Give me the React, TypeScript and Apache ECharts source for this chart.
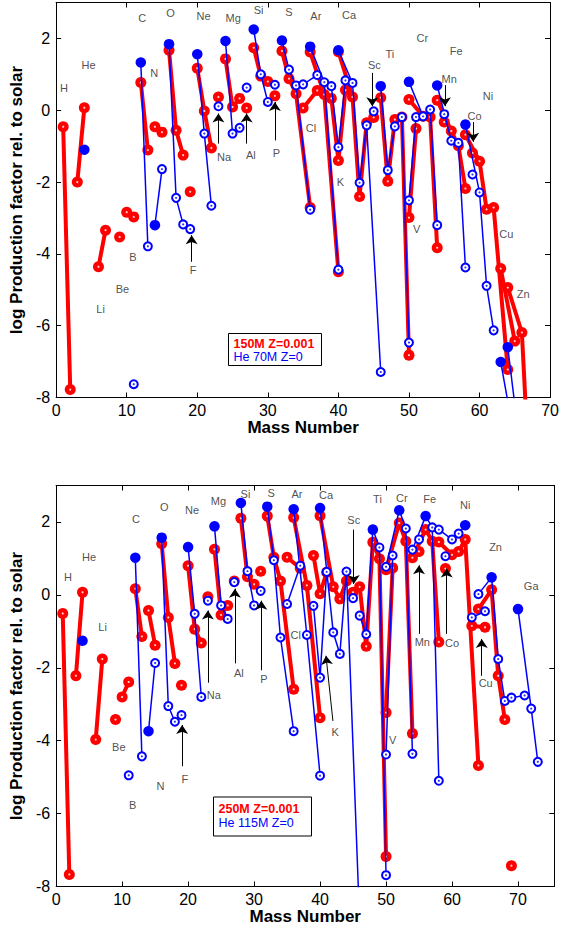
import React, { useEffect, useRef } from "react";
import * as echarts from "echarts";

type Pt = [number, number];
type Lbl = [string, number, number];

// ================= TOP PANEL =================
// 150M Z=0.001 (red), chains of isotopes per element: [mass number, log production factor]
const topRed: Pt[][] = [
  [[1, -0.46], [2, -7.78]], // H
  [[3, -2.0], [4, 0.07]], // He
  [[6, -4.36], [7, -3.34]], // Li
  [[9, -3.53]], // Be
  [[10, -2.84], [11, -2.97]], // B
  [[12, 0.77], [13, -1.11]], // C
  [[14, -0.46], [15, -0.61]], // N
  [[16, 1.67], [17, -0.56], [18, -1.25]], // O
  [[19, -2.27]], // F
  [[20, 1.17], [21, -0.02], [22, -1.05]], // Ne
  [[23, 0.37]], // Na
  [[24, 1.43], [25, 0.09], [26, 0.33]], // Mg
  [[27, 0.06]], // Al
  [[28, 1.74], [29, 0.95], [30, 0.8]], // Si
  [[31, 0.4]], // P
  [[32, 1.65], [33, 0.88], [34, 0.46], [36, -2.71]], // S
  [[35, 0.06], [37, 0.55]], // Cl
  [[36, 1.62], [38, 0.44], [40, -4.5]], // Ar
  [[39, 0.33], [40, -1.4], [41, 0.56]], // K
  [[40, 1.63], [42, 0.37], [43, -2.4], [44, -0.35]], // Ca
  [[45, -0.2]], // Sc
  [[46, 0.35], [47, -1.98], [48, -0.26], [49, -0.19], [50, -6.82]], // Ti
  [[50, -2.99], [51, -0.51]], // V
  [[50, 0.3], [52, -0.17], [53, -0.19], [54, -3.83]], // Cr
  [[55, -0.33]], // Mn
  [[54, 0.28], [56, -0.58], [57, -0.99], [58, -2.18]], // Fe
  [[59, -1.19]], // Co
  [[58, -0.68], [60, -1.42], [61, -2.76], [62, -2.71], [64, -7.22]], // Ni
  [[63, -4.41], [65, -6.43]], // Cu
  [[64, -4.94], [66, -6.19], [67, -10.0]], // Zn
];

// He 70M Z=0 (blue)
const topBlue: Pt[][] = [
  [[4, -1.1]], // He
  [[11, -7.63]], // B
  [[12, 1.33], [13, -3.79]], // C
  [[14, -3.2], [15, -1.64]], // N
  [[16, 1.84], [17, -2.44], [18, -3.18]], // O
  [[19, -3.31]], // F
  [[20, 1.56], [21, -0.65], [22, -2.66]], // Ne
  [[23, 0.11]], // Na
  [[24, 1.93], [25, -0.65], [26, -0.49]], // Mg
  [[27, 0.63]], // Al
  [[28, 2.25], [29, 1.0], [30, 0.23]], // Si
  [[31, 0.71]], // P
  [[32, 1.94], [33, 1.13], [34, 0.69], [36, -2.77]], // S
  [[35, 0.72], [37, 0.98]], // Cl
  [[36, 1.77], [38, 0.78], [40, -4.44]], // Ar
  [[39, 0.67], [40, -1.03], [41, 0.83]], // K
  [[40, 1.67], [42, 0.76], [43, -2.02], [44, -0.42], [46, -7.29]], // Ca
  [[45, -0.03]], // Sc
  [[46, 0.67], [47, -1.67], [48, -0.45], [49, -0.19], [50, -6.47]], // Ti
  [[50, -2.51], [51, -0.19]], // V
  [[50, 0.79], [52, -0.17], [53, 0.02], [54, -3.2]], // Cr
  [[55, -0.11]], // Mn
  [[54, 0.69], [56, -0.85], [57, -0.91], [58, -4.38]], // Fe
  [[59, -1.79]], // Co
  [[58, -0.4], [60, -2.29], [61, -4.89], [62, -6.13]], // Ni
  [[63, -7.01], [65, -9.2]], // Cu
  [[64, -6.6], [66, -9.8]], // Zn
];
// index of the filled marker in each blue chain (-1: none)
const topBlueFilled: number[] = [0, -1, 0, 0, 0, -1, 0, -1, 0, -1, 0, -1, 0, -1, 0, -1, 0, -1, 0, -1, 0, -1, 0, -1, 0, 0, 0];

const topLabels: Lbl[] = [
  ["H", 1.1, 0.63], ["He", 4.6, 1.27], ["Li", 6.3, -5.53], ["Be", 9.4, -4.98], ["B", 10.9, -4.1],
  ["C", 12.2, 2.58], ["N", 13.9, 1.04], ["O", 16.2, 2.72], ["F", 19.4, -4.46], ["Ne", 20.9, 2.63],
  ["Na", 23.8, -1.3], ["Mg", 25.1, 2.58], ["Al", 27.6, -1.25], ["Si", 28.7, 2.79], ["P", 31.2, -1.19],
  ["S", 33.0, 2.74], ["Cl", 36.1, -0.49], ["Ar", 36.8, 2.63], ["K", 40.3, -2.0], ["Ca", 41.5, 2.65],
  ["Sc", 45.1, 1.27], ["Ti", 47.3, 1.56], ["V", 51.1, -3.3], ["Cr", 51.9, 2.02], ["Mn", 55.7, 0.88],
  ["Fe", 56.7, 1.65], ["Co", 59.3, -0.16], ["Ni", 61.2, 0.4], ["Cu", 63.8, -3.46], ["Zn", 66.2, -5.13],
];
// arrows: [tail, head]
const topArrows: [Pt, Pt][] = [
  [[19.2, -4.22], [19.2, -3.48]],
  [[23.0, -0.93], [23.0, -0.09]],
  [[27.0, -0.93], [27.0, -0.09]],
  [[31.0, -0.84], [31.0, 0.23]],
  [[44.8, 1.04], [44.8, 0.11]],
  [[55.1, 0.7], [55.1, 0.11]],
  [[59.1, -0.33], [59.1, -0.88]],
];

// ================= BOTTOM PANEL =================
// 250M Z=0.001 (red)
const botRed: Pt[][] = [
  [[1, -0.51], [2, -7.67]], // H
  [[3, -2.22], [4, 0.07]], // He
  [[6, -3.97], [7, -1.76]], // Li
  [[9, -3.42]], // Be
  [[10, -2.8], [11, -2.39]], // B
  [[12, 0.17], [13, -1.14]], // C
  [[14, -0.43], [15, -1.38]], // N
  [[16, 1.4], [17, -0.62], [18, -1.88]], // O
  [[19, -2.48]], // F
  [[20, 0.8], [21, -0.94], [22, -1.32]], // Ne
  [[23, -0.05]], // Na
  [[24, 1.25], [25, -0.55], [26, -0.29]], // Mg
  [[27, 0.38]], // Al
  [[28, 2.1], [29, 0.5], [30, 0.29]], // Si
  [[31, 0.65]], // P
  [[32, 2.16], [33, 1.03], [34, 0.38], [36, -2.59]], // S
  [[35, 1.03], [37, 0.73]], // Cl
  [[36, 2.12], [38, 0.26], [40, -3.37]], // Ar
  [[39, 1.08], [40, 0.03], [41, 0.62]], // K
  [[40, 2.17], [42, 0.22], [43, -0.11], [44, 0.38]], // Ca
  [[45, 0.07]], // Sc
  [[46, 0.22], [47, -1.41], [48, 1.44], [49, 0.99], [50, -7.18]], // Ti
  [[50, -3.23], [51, 0.74]], // V
  [[50, 0.69], [52, 1.97], [53, 1.47], [54, -3.8]], // Cr
  [[55, 1.19]], // Mn
  [[54, 1.02], [56, 1.79], [57, 1.47], [58, -1.29]], // Fe
  [[59, 0.72]], // Co
  [[58, 1.45], [60, 1.1], [61, 1.19], [62, 1.52], [64, -4.68]], // Ni
  [[63, -0.85], [65, -0.89]], // Cu
  [[64, -0.39], [66, 0.14], [67, -2.22], [68, -3.42]], // Zn
  [[69, -7.43]], // Ga
];

// He 115M Z=0 (blue)
const botBlue: Pt[][] = [
  [[4, -1.26]], // He
  [[11, -4.95]], // B
  [[12, 1.02], [13, -4.43]], // C
  [[14, -3.74], [15, -1.87]], // N
  [[16, 1.57], [17, -3.05], [18, -3.48]], // O
  [[19, -3.3]], // F
  [[20, 1.31], [21, -0.52], [22, -2.8]], // Ne
  [[23, -0.16]], // Na
  [[24, 1.88], [25, -0.29], [26, -0.66]], // Mg
  [[27, 0.35]], // Al
  [[28, 2.52], [29, 0.65], [30, -0.29]], // Si
  [[31, 0.11]], // P
  [[32, 2.42], [33, 0.95], [34, -1.17], [36, -3.74]], // S
  [[35, -0.25], [37, 0.8]], // Cl
  [[36, 2.35], [38, -1.1], [40, -4.96]], // Ar
  [[39, -0.3], [40, -2.27], [41, 0.63]], // K
  [[40, 2.38], [42, -1.03], [43, -1.62], [44, 0.64], [46, -9.0]], // Ca
  [[45, -0.09]], // Sc
  [[46, -0.57], [47, -1.08], [48, 1.79], [49, 1.3], [50, -7.69]], // Ti
  [[50, -4.38], [51, 1.08]], // V
  [[50, 0.77], [52, 2.32], [53, 1.82], [54, -4.36]], // Cr
  [[55, 1.52]], // Mn
  [[54, 1.24], [56, 2.16], [57, 1.85], [58, -5.1]], // Fe
  [[59, 1.06]], // Co
  [[58, 1.79], [60, 1.52], [61, 1.68], [62, 1.91]], // Ni
  [[63, -0.62], [65, -0.45]], // Cu
  [[64, 0.02], [66, 0.48], [67, -1.76], [68, -2.91], [69, -2.82], [71, -2.76]], // Zn, Ga
  [[70, -0.39], [72, -3.12], [73, -4.58]], // Ge
];
const botBlueFilled: number[] = [0, -1, 0, 0, 0, -1, 0, -1, 0, -1, 0, -1, 0, -1, 0, -1, 0, -1, 2, -1, 1, -1, 1, -1, 3, -1, 1, 0];

const botLabels: Lbl[] = [
  ["H", 1.8, 0.48], ["He", 5.0, 1.04], ["Li", 7.05, -0.87], ["Be", 9.5, -4.18], ["B", 11.6, -5.76],
  ["C", 12.1, 2.07], ["N", 15.8, -5.25], ["O", 16.4, 2.4], ["F", 19.5, -5.04], ["Ne", 20.6, 2.34],
  ["Na", 23.9, -2.75], ["Mg", 24.6, 2.58], ["Al", 27.7, -2.13], ["Si", 28.7, 2.78], ["P", 31.5, -2.31],
  ["S", 32.6, 2.8], ["Cl", 36.3, -1.1], ["Ar", 36.5, 2.76], ["K", 42.3, -3.76], ["Ca", 40.9, 2.74],
  ["Sc", 45.1, 2.05], ["Ti", 48.7, 2.64], ["V", 51.0, -3.97], ["Cr", 52.4, 2.67], ["Mn", 55.5, -1.28],
  ["Fe", 56.6, 2.62], ["Co", 60.0, -1.31], ["Ni", 62.0, 2.46], ["Cu", 65.1, -2.41], ["Zn", 66.6, 1.31],
  ["Ga", 72.0, 0.24],
];
const botArrows: [Pt, Pt][] = [
  [[19.1, -4.7], [19.1, -3.57]],
  [[23.0, -2.41], [23.0, -0.43]],
  [[27.1, -1.88], [27.1, 0.17]],
  [[31.1, -2.07], [31.1, -0.16]],
  [[41.95, -3.46], [40.9, -1.67]],
  [[45.1, 1.79], [45.1, 0.3]],
  [[55.0, -1.07], [55.0, 0.81]],
  [[59.2, -1.07], [59.2, 0.72]],
  [[64.5, -2.22], [64.5, -1.21]],
];

const topLegend = ["150M Z=0.001", "He 70M Z=0"];
const botLegend = ["250M Z=0.001", "He 115M Z=0"];

const yTicks = { min: -8, max: 3, interval: 2 };

const RED = "#ff0000";
const BLUE = "#0000ff";
const FONT = "'Liberation Sans', Arial, Helvetica, sans-serif";

function panelSeries(
  xi: number,
  yi: number,
  red: Pt[][],
  blue: Pt[][],
  filled: number[],
  labels: Lbl[],
  arrows: [Pt, Pt][]
): any[] {
  const out: any[] = [];
  const redPts: Pt[] = [];
  red.forEach((chain) => {
    chain.forEach((p) => redPts.push(p));
    out.push({
      type: "line",
      xAxisIndex: xi,
      yAxisIndex: yi,
      data: chain,
      symbol: "circle",
      symbolSize: 11,
      showSymbol: true,
      showAllSymbol: true,
      lineStyle: { color: RED, width: 4 },
      itemStyle: { color: RED, borderWidth: 0 },
      clip: true,
      silent: true,
      z: 2,
    });
  });
  out.push({
    type: "scatter",
    xAxisIndex: xi,
    yAxisIndex: yi,
    data: redPts,
    symbol: "circle",
    symbolSize: 2.2,
    itemStyle: { color: "#fff" },
    clip: true,
    silent: true,
    z: 2,
  });
  const openPts: Pt[] = [];
  blue.forEach((chain, ci) => {
    out.push({
      type: "line",
      xAxisIndex: xi,
      yAxisIndex: yi,
      data: chain.map((p, i) => {
        if (i === filled[ci]) {
          return { value: p, symbol: "circle", symbolSize: 10.5, itemStyle: { color: BLUE, borderWidth: 0 } };
        }
        openPts.push(p);
        return { value: p };
      }),
      symbol: "emptyCircle",
      symbolSize: 8,
      showSymbol: true,
      showAllSymbol: true,
      lineStyle: { color: BLUE, width: 1.5 },
      itemStyle: { color: BLUE, borderColor: BLUE, borderWidth: 1.5 },
      clip: true,
      silent: true,
      z: 3,
    });
  });
  out.push({
    type: "scatter",
    xAxisIndex: xi,
    yAxisIndex: yi,
    data: openPts,
    symbol: "circle",
    symbolSize: 2.2,
    itemStyle: { color: BLUE },
    clip: true,
    silent: true,
    z: 4,
  });
  out.push({
    type: "scatter",
    xAxisIndex: xi,
    yAxisIndex: yi,
    data: labels.map(([n, x, y]) => ({ name: n, value: [x, y] })),
    symbol: "circle",
    symbolSize: 0,
    itemStyle: { color: "#222" },
    label: {
      show: true,
      position: [0, 0],
      align: "center",
      verticalAlign: "middle",
      formatter: "{b}",
      fontSize: 11,
      color: "#222",
      fontFamily: FONT,
    },
    silent: true,
    z: 5,
  });
  out.push({
    type: "lines",
    coordinateSystem: "cartesian2d",
    xAxisIndex: xi,
    yAxisIndex: yi,
    data: arrows.map((c) => ({ coords: c })),
    symbol: ["none", "arrow"],
    symbolSize: [0, 9],
    lineStyle: { color: "#000", width: 1, opacity: 1, curveness: 0 },
    itemStyle: { color: "#000" },
    silent: true,
    z: 6,
  });
  return out;
}

function xAxes(grid: number, max: number, showMax: boolean): any[] {
  const base = {
    type: "value",
    gridIndex: grid,
    min: 0,
    max,
    interval: 10,
    splitLine: { show: false },
    axisLine: { show: true, onZero: false, lineStyle: { color: "#000", width: 1 } },
    axisTick: { show: true, inside: true, length: 5, lineStyle: { color: "#000" } },
  };
  return [
    {
      ...base,
      position: "bottom",
      name: "Mass Number",
      nameLocation: "middle",
      nameGap: 20,
      nameTextStyle: { fontSize: 17, fontWeight: "bold", color: "#000", fontFamily: FONT },
      axisLabel: { show: true, fontSize: 16, color: "#000", margin: 5, fontFamily: FONT, showMaxLabel: showMax },
    },
    { ...base, position: "top", axisLabel: { show: false } },
  ];
}

function yAxes(grid: number): any[] {
  const base = {
    type: "value",
    gridIndex: grid,
    ...yTicks,
    splitLine: { show: false },
    axisLine: { show: true, onZero: false, lineStyle: { color: "#000", width: 1 } },
    axisTick: { show: true, inside: true, length: 5, lineStyle: { color: "#000" } },
  };
  return [
    {
      ...base,
      position: "left",
      name: "log Production factor rel. to solar",
      nameLocation: "middle",
      nameGap: 27,
      nameTextStyle: { fontSize: 17, fontWeight: "bold", color: "#000", fontFamily: FONT },
      axisLabel: { show: true, fontSize: 16, color: "#000", margin: 6, fontFamily: FONT, showMaxLabel: false },
    },
    { ...base, position: "right", axisLabel: { show: false } },
  ];
}

function legendBox(x: number, y: number, w: number, h: number, dy: number[], texts: string[]): any[] {
  return [
    {
      type: "rect",
      shape: { x, y, width: w, height: h },
      style: { fill: "#fff", stroke: "#000", lineWidth: 1 },
      z: 20,
    },
    {
      type: "text",
      x: x + 5,
      y: y + dy[0],
      style: { text: texts[0], fill: RED, fontSize: 12.5, fontWeight: "bold", fontFamily: FONT, verticalAlign: "middle" },
      z: 21,
    },
    {
      type: "text",
      x: x + 5,
      y: y + dy[1],
      style: { text: texts[1], fill: BLUE, fontSize: 12.5, fontFamily: FONT, verticalAlign: "middle" },
      z: 21,
    },
  ];
}

export default function App() {
  const ref = useRef<HTMLDivElement>(null);
  useEffect(() => {
    if (!ref.current) return;
    const chart = echarts.init(ref.current, undefined, { renderer: "svg" });
    chart.setOption({
      animation: false,
      backgroundColor: "#fff",
      grid: [
        { left: 53, top: 2.5, width: 500, height: 395 },
        { left: 53.3, top: 485.5, width: 501, height: 401 },
      ],
      xAxis: [...xAxes(0, 70, true), ...xAxes(1, 75.5, false)],
      yAxis: [...yAxes(0), ...yAxes(1)],
      series: [
        ...panelSeries(0, 0, topRed, topBlue, topBlueFilled, topLabels, topArrows),
        ...panelSeries(2, 2, botRed, botBlue, botBlueFilled, botLabels, botArrows),
      ],
      graphic: [
        ...legendBox(228.5, 333.5, 93, 32, [10.3, 23.5], topLegend),
        ...legendBox(213.5, 797, 98, 39, [11.5, 25.7], botLegend),
      ],
    });
    return () => chart.dispose();
  }, []);
  return (
    <div
      ref={ref}
      style={{ position: "fixed", left: 0, top: 0, width: 562, height: 930, background: "#fff" }}
    />
  );
}
